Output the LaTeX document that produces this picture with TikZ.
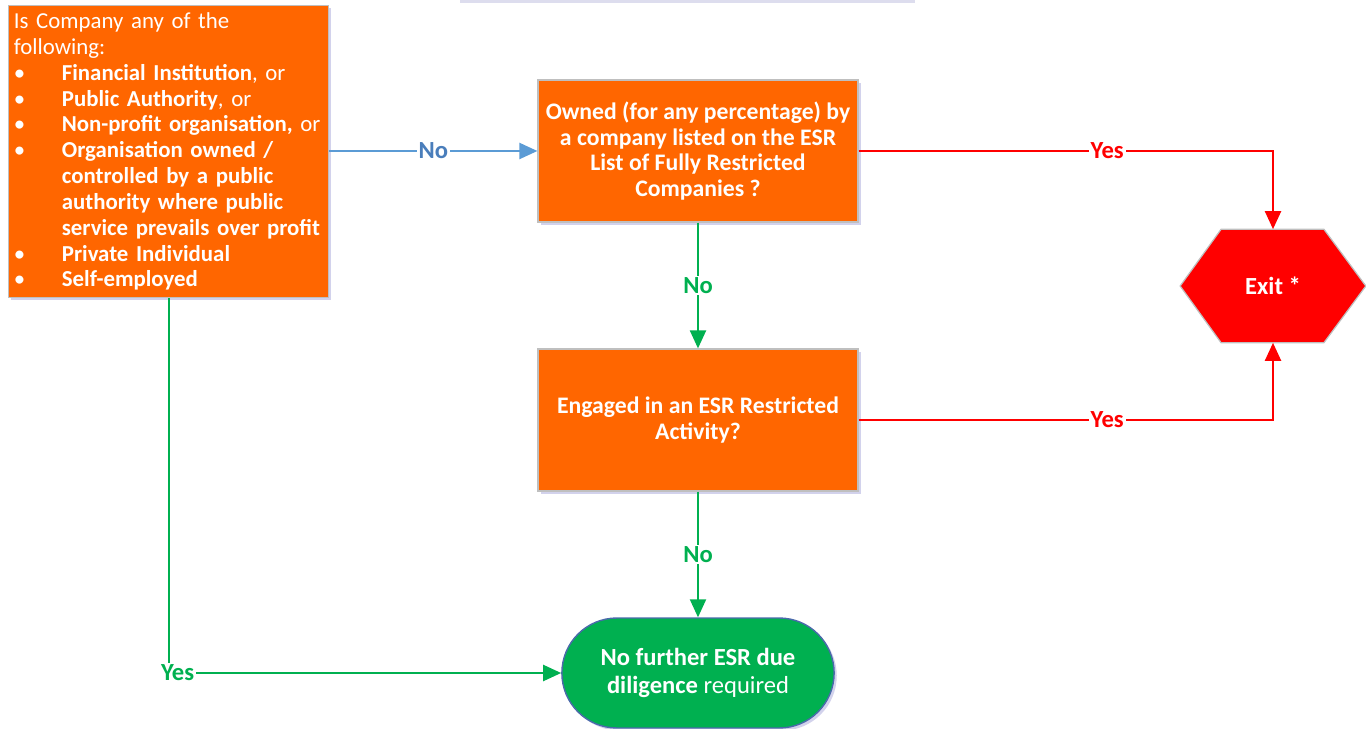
\documentclass[tikz,border=0pt]{standalone}
\usepackage{fontspec}
\setmainfont{Carlito}
\usetikzlibrary{arrows.meta, shapes.misc, shadows, calc}

\definecolor{boxorange}{HTML}{FF6600}
\definecolor{exitred}{HTML}{FF0000}
\definecolor{endgreen}{HTML}{00B050}
\definecolor{noblue}{HTML}{5B9BD5}
\definecolor{nolabel}{HTML}{4A7EBB}
\definecolor{edgegray}{HTML}{BFBFBF}
\definecolor{termblue}{HTML}{4A6AAA}

\begin{document}
\begin{tikzpicture}[x=0.02cm, y=-0.02cm, >={Triangle[length=0.36cm, width=0.32cm]},
	font=\fontsize{13}{14.7}\selectfont,
	qbox/.style={rectangle, fill=boxorange, draw=edgegray, line width=0.7pt, text=white,
		drop shadow={shadow xshift=1.5pt, shadow yshift=-1.5pt, fill=blue!40!gray, opacity=0.25},
		minimum width=6.4cm, inner sep=3pt},
	qtext/.style={align=center, font=\fontsize{13.5}{14.7}\selectfont\bfseries},
	link/.style={line width=1.2pt},
	lbl/.style={fill=white, inner sep=1pt, font=\fontsize{14}{16}\selectfont\bfseries}]
	
	% --- 1. Canvas ---
	\useasboundingbox (0,0) rectangle (1366,729);
	% cut-off box at the top edge
	\fill[blue!35!gray!20] (460,0) rectangle (915,3);
	
	% --- 2. Question boxes ---
	\node[qbox, anchor=north west, minimum height=5.84cm, text width=6.19cm, align=left] (company) at (8,5) {%
		Is Company any of the\\
		following:\\
		\makebox[0.96cm][l]{\textbullet}\textbf{Financial Institution}, or\\
		\makebox[0.96cm][l]{\textbullet}\textbf{Public Authority}, or\\
		\makebox[0.96cm][l]{\textbullet}\textbf{Non-profit organisation,} or\\
		\makebox[0.96cm][l]{\textbullet}\textbf{Organisation owned /}\\
		\hspace*{0.96cm}\textbf{controlled by a public}\\
		\hspace*{0.96cm}\textbf{authority where public}\\
		\hspace*{0.96cm}\textbf{service prevails over profit}\\
		\makebox[0.96cm][l]{\textbullet}\textbf{Private Individual}\\
		\makebox[0.96cm][l]{\textbullet}\textbf{Self-employed}};
	
	\node[qbox, qtext, minimum height=2.84cm] (owned) at (698,151) {%
		Owned (for any percentage) by\\
		a company listed on the ESR\\
		List of Fully Restricted\\
		Companies ?};
	
	\node[qbox, qtext, minimum height=2.84cm] (engaged) at (698,420) {%
		Engaged in an ESR Restricted\\
		Activity?};
	
	% --- 3. Exit hexagon ---
	\node[minimum width=3.7cm, minimum height=2.26cm, inner sep=0pt] (exit) at (1273,286) {};
	\fill[blue!40!gray, opacity=0.25, xshift=1.5pt, yshift=-1.5pt]
		(exit.west) -- ($(exit.north west)+(41,0)$) -- ($(exit.north east)+(-42,0)$) -- (exit.east)
		-- ($(exit.south east)+(-42,0)$) -- ($(exit.south west)+(41,0)$) -- cycle;
	\filldraw[fill=exitred, draw=edgegray, line width=0.7pt]
		(exit.west) -- ($(exit.north west)+(41,0)$) -- ($(exit.north east)+(-42,0)$) -- (exit.east)
		-- ($(exit.south east)+(-42,0)$) -- ($(exit.south west)+(41,0)$) -- cycle;
	\node[text=white, font=\fontsize{14}{16}\selectfont\bfseries] at (exit.center) {Exit *};
	
	% --- 4. End terminal ---
	\node[rounded rectangle, fill=endgreen, draw=termblue, line width=0.8pt, text=white,
		minimum width=5.68cm, minimum height=2.2cm, align=center, font=\fontsize{14}{15.5}\selectfont,
		drop shadow={shadow xshift=1.5pt, shadow yshift=-1.5pt, fill=blue!40!gray, opacity=0.25}] (done) at (698,673) {%
		\textbf{No further ESR due}\\
		\textbf{diligence} required};
	
	% --- 5. Connectors ---
	\draw[->, link, noblue] (company.east |- owned.west) -- (owned.west)
		node[lbl, midway, text=nolabel] {No};
	\draw[->, link, exitred] (owned.east) -| (exit.north)
		node[lbl, pos=0.3, text=exitred] {Yes};
	\draw[->, link, exitred] (engaged.east) -| (exit.south)
		node[lbl, pos=0.3, text=exitred] {Yes};
	\draw[->, link, endgreen] (owned.south) -- (engaged.north)
		node[lbl, midway, text=endgreen] {No};
	\draw[->, link, endgreen] (engaged.south) -- (done.north)
		node[lbl, midway, text=endgreen] {No};
	\draw[->, link, endgreen] (company.south) |- (done.west)
		node[lbl, pos=0.5, xshift=0.18cm, text=endgreen] {Yes};
	
\end{tikzpicture}
\end{document}
